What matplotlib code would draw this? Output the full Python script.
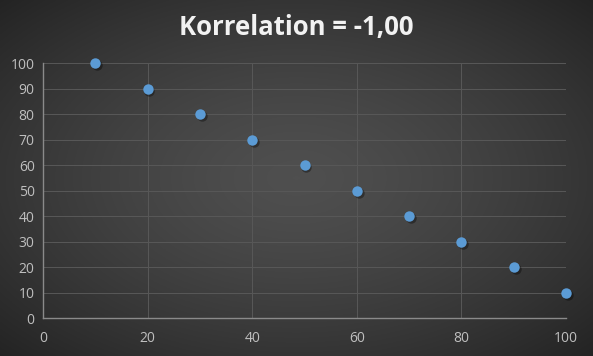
import numpy as np
import matplotlib.pyplot as plt

x_values = [10, 20, 30, 40, 50, 60, 70, 80, 90, 100]
y_values = [100, 90, 80, 70, 60, 50, 40, 30, 20, 10]
title = "Korrelation = -1,00"

fig = plt.figure(figsize=(5.93, 3.56), dpi=100)

# radial gradient background
bg = fig.add_axes([0, 0, 1, 1], zorder=0)
gx, gy = np.meshgrid(np.linspace(-1, 1, 400), np.linspace(-1, 1, 240))
r = np.sqrt(gx ** 2 + gy ** 2)
r = np.clip(r / 1.414, 0, 1)
shade = 0.31 - 0.17 * r ** 1.4
bg.imshow(np.dstack([shade] * 3), extent=[0, 1, 0, 1], aspect="auto")
bg.axis("off")

ax = fig.add_axes([0.0725, 0.1067, 0.882, 0.7163], zorder=1)
ax.patch.set_alpha(0)

# soft shadow then marker
ax.plot(np.array(x_values) + 0.35, np.array(y_values) - 0.9, "o", color="black",
        alpha=0.35, markersize=7.5, markeredgewidth=0, zorder=2, clip_on=False)
ax.plot(x_values, y_values, "o", color="#5b9bd5", markersize=7.5,
        markeredgewidth=0, zorder=3, clip_on=False)

ax.set_xlim(0, 100)
ax.set_ylim(0, 100)
ax.set_xticks(range(0, 101, 20))
ax.set_yticks(range(0, 101, 10))
ax.grid(True, color="#585858", linewidth=0.7)
ax.set_axisbelow(True)
for s in ["top", "right"]:
    ax.spines[s].set_visible(False)
for s in ["left", "bottom"]:
    ax.spines[s].set_color("#8a8a8a")
    ax.spines[s].set_linewidth(1)
ax.tick_params(length=0, colors="#bfbfbf", labelsize=10)
ax.tick_params(axis="x", pad=9)
ax.tick_params(axis="y", pad=6)
for lbl in ax.get_xticklabels() + ax.get_yticklabels():
    lbl.set_fontfamily("Open Sans")

fig.text(0.5, 0.924, title, ha="center", va="center", color="#f2f2f2",
         fontsize=18.5, fontweight="bold", fontfamily="Open Sans")

fig.savefig("out.png", dpi=100)
